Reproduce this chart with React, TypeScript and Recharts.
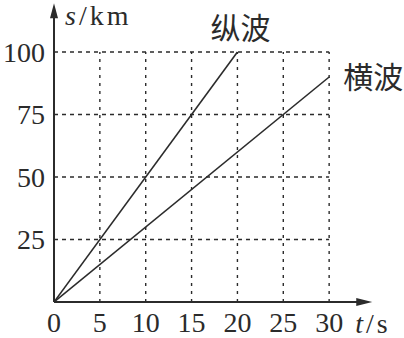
import React from "react";
import { LineChart, Line, XAxis, YAxis, ReferenceLine } from "recharts";

// 纵波 (P-wave) and 横波 (S-wave) distance–time data
const pTimes = [0, 20];
const pDist = [0, 100];
const sTimes = [0, 30];
const sDist = [0, 90];

const xTicks = [0, 5, 10, 15, 20, 25, 30];
const yTicks = [25, 50, 75, 100];
const xGrid = [5, 10, 15, 20, 25, 30];
const yGrid = [25, 50, 75, 100];

const pData = pTimes.map((t, i) => ({ t, s: pDist[i] }));
const sData = sTimes.map((t, i) => ({ t, s: sDist[i] }));

const INK = "#2b2b2b";
const SERIF = "'Liberation Serif', 'DejaVu Serif', serif";
const CJK = "'Noto Sans CJK SC', sans-serif";

const makeEndLabel = (text: string, last: number, dx: number, dy: number, anchor: string) =>
  (props: any) => {
    if (props.index !== last) return null;
    return (
      <text
        x={props.x + dx}
        y={props.y + dy}
        textAnchor={anchor}
        dominantBaseline="middle"
        fontFamily={CJK}
        fontSize={30}
        fill={INK}
      >
        {text}
      </text>
    );
  };

const YArrow = (props: any) => {
  const { x1, y1, x2, y2 } = props;
  return (
    <g>
      <line x1={x1} y1={y1} x2={x2} y2={y2 + 8} stroke={INK} strokeWidth={2} />
      <polygon points={`${x2},${y2} ${x2 - 4},${y2 + 15} ${x2 + 4},${y2 + 15}`} fill={INK} />
      <text x={x2 + 11} y={y2 + 22} fontFamily={SERIF} fontSize={28} letterSpacing={3} fill={INK}>
        <tspan fontStyle="italic">s</tspan>/km
      </text>
    </g>
  );
};

const XArrow = (props: any) => {
  const { x1, y1, x2, y2 } = props;
  return (
    <g>
      <line x1={x1} y1={y1} x2={x2 - 8} y2={y2} stroke={INK} strokeWidth={2} />
      <polygon points={`${x2},${y2} ${x2 - 16},${y2 - 4} ${x2 - 16},${y2 + 4}`} fill={INK} />
      <text x={x2 - 17} y={y2 + 31} fontFamily={SERIF} fontSize={28} letterSpacing={3} fill={INK}>
        <tspan fontStyle="italic">t</tspan>/s
      </text>
    </g>
  );
};

export default function App() {
  return (
    <div style={{ position: "absolute", left: 0, top: 0, background: "#fff" }}>
      <LineChart
        width={404}
        height={338}
        margin={{ top: 2, right: 29, left: 0, bottom: 6 }}
      >
        <XAxis
          type="number"
          dataKey="t"
          domain={[0, 35]}
          ticks={xTicks}
          allowDataOverflow
          axisLine={false}
          tickLine={false}
          tickSize={0}
          tickMargin={10}
          height={30}
          tick={{ fontFamily: SERIF, fontSize: 28, fill: INK }}
        />
        <YAxis
          type="number"
          dataKey="s"
          domain={[0, 120]}
          ticks={yTicks}
          allowDataOverflow
          axisLine={false}
          tickLine={false}
          tickSize={0}
          tickMargin={9}
          width={54}
          tick={{ fontFamily: SERIF, fontSize: 28, fill: INK }}
        />
        {xGrid.map((v) => (
          <ReferenceLine
            key={`vx${v}`}
            segment={[{ x: v, y: 0 }, { x: v, y: 100 }]}
            stroke={INK}
            strokeWidth={1.4}
            strokeDasharray="3 5"
            ifOverflow="visible"
          />
        ))}
        {yGrid.map((v) => (
          <ReferenceLine
            key={`hy${v}`}
            segment={[{ x: 0, y: v }, { x: 30, y: v }]}
            stroke={INK}
            strokeWidth={1.4}
            strokeDasharray="4 4"
            ifOverflow="visible"
          />
        ))}
        <ReferenceLine
          segment={[{ x: 0, y: 0 }, { x: 0, y: 119.5 }]}
          ifOverflow="visible"
          shape={YArrow}
        />
        <ReferenceLine
          segment={[{ x: 0, y: 0 }, { x: 34.7, y: 0 }]}
          ifOverflow="visible"
          shape={XArrow}
        />
        <Line
          data={pData}
          dataKey="s"
          stroke={INK}
          strokeWidth={1.6}
          dot={false}
          isAnimationActive={false}
          label={makeEndLabel("纵波", pData.length - 1, 3, -21, "middle")}
        />
        <Line
          data={sData}
          dataKey="s"
          stroke={INK}
          strokeWidth={1.6}
          dot={false}
          isAnimationActive={false}
          label={makeEndLabel("横波", sData.length - 1, 14, 3, "start")}
        />
      </LineChart>
    </div>
  );
}
